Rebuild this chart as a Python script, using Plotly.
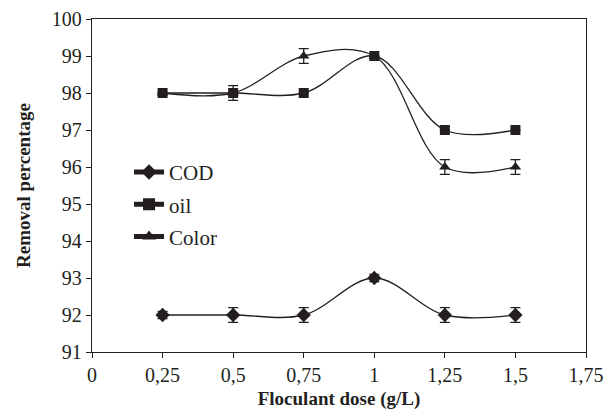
import plotly.graph_objects as go

dose = [0.25, 0.5, 0.75, 1.0, 1.25, 1.5]
cod = [92, 92, 92, 93, 92, 92]
cod_err = [0.1, 0.2, 0.2, 0.1, 0.2, 0.2]
oil = [98, 98, 98, 99, 97, 97]
oil_err = [0, 0, 0, 0, 0, 0]
color = [98, 98, 99, 99, 96, 96]
color_err = [0, 0.2, 0.2, 0, 0.2, 0.2]
x_ticks = [0, 0.25, 0.5, 0.75, 1.0, 1.25, 1.5, 1.75]
x_labels = ["0", "0,25", "0,5", "0,75", "1", "1,25", "1,5", "1,75"]

ink = "#231f20"
font = "Liberation Serif"

fig = go.Figure()

def add(name, y, err, symbol, size):
    fig.add_trace(go.Scatter(
        x=dose, y=y, name=name, legendgroup=name, mode="lines+markers",
        line=dict(color=ink, width=1.3, shape="spline", smoothing=1.0),
        marker=dict(symbol=symbol, size=size, color=ink),
        error_y=dict(type="data", array=err, visible=True, color=ink,
                     thickness=1.3, width=5),
    ))

add("COD", cod, cod_err, "diamond", 11)
add("oil", oil, oil_err, "square", 10)
add("Color", color, color_err, "triangle-up", 10)

fig.update_layout(
    width=607, height=410,
    margin=dict(l=92, r=21, t=19, b=58),
    plot_bgcolor="white", paper_bgcolor="white",
    font=dict(family=font, size=20, color=ink),
    showlegend=True,
    legend=dict(x=0.075, y=0.601, xanchor="left", yanchor="top",
                bgcolor="rgba(0,0,0,0)", font=dict(size=21),
                tracegroupgap=2, itemsizing="constant"),
    xaxis=dict(range=[0, 1.75], tickvals=x_ticks, ticktext=x_labels,
               showgrid=False, zeroline=False, showline=True, linecolor=ink,
               linewidth=1.3, mirror=True, ticks="outside", ticklen=5,
               tickcolor=ink, tickwidth=1.3, automargin=False,
               title=dict(text="<b>Floculant dose (g/L)</b>",
                          font=dict(size=19), standoff=8)),
    yaxis=dict(range=[91, 100], dtick=1, showgrid=False, zeroline=False,
               showline=True, linecolor=ink, linewidth=1.3, mirror=True,
               ticks="outside", ticklen=5, tickcolor=ink, tickwidth=1.3,
               automargin=False,
               title=dict(text="<b>Removal percentage</b>",
                          font=dict(size=19), standoff=16)),
)

fig.write_html("out.html")
